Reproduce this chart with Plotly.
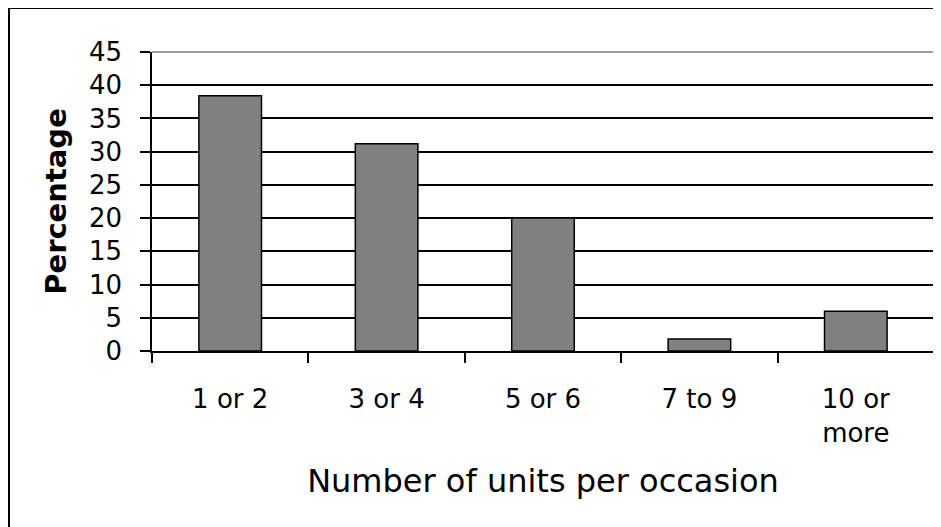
import plotly.graph_objects as go

categories = ["1 or 2", "3 or 4", "5 or 6", "7 to 9", "10 or<br>more"]
percentages = [38.4, 31.2, 20.0, 1.8, 6.0]
y_ticks = [0, 5, 10, 15, 20, 25, 30, 35, 40, 45]

# The page body adds an 8px offset; figure coords = screenshot coords - 8
W, H = 941, 527
OFF = 8
L = 152 - OFF
T = 52 - OFF
R = W - (934 - OFF)
B = H - (351 - OFF)
pw, ph = W - L - R, H - T - B

FONT = "DejaVu Sans, Verdana, sans-serif"

fig = go.Figure()
fig.add_trace(go.Bar(
    x=categories, y=percentages,
    marker=dict(color="#808080", line=dict(color="black", width=1.5)),
    width=0.4,
))

def px_x(p):
    return (p - OFF - L) / pw

def px_y(p):
    return (H - B - (p - OFF)) / ph

shapes = [
    dict(type="line", xref="paper", yref="paper", x0=0, x1=1, y0=1, y1=1,
         line=dict(color="#808080", width=1.5), layer="above"),
    dict(type="line", xref="paper", yref="paper", x0=1, x1=1, y0=0, y1=1,
         line=dict(color="#808080", width=1.5), layer="above"),
    dict(type="rect", xref="paper", yref="paper",
         x0=px_x(9), x1=px_x(1100), y0=px_y(700), y1=px_y(8),
         line=dict(color="black", width=2), fillcolor="rgba(0,0,0,0)", layer="above"),
]

fig.update_layout(
    width=W, height=H,
    margin=dict(l=L, r=R, t=T, b=B),
    paper_bgcolor="white", plot_bgcolor="white",
    showlegend=False,
    bargap=0.6,
    shapes=shapes,
    font=dict(family=FONT, color="black"),
    xaxis=dict(
        automargin=False,
        showgrid=False,
        showline=True, linecolor="black", linewidth=1.5,
        ticks="outside", ticklen=10, tickcolor="black", tickwidth=1.5,
        tickson="boundaries",
        tickfont=dict(size=26, family=FONT, color="black"),
        ticklabelstandoff=24,
        title=dict(text="Number of units per occasion",
                   font=dict(size=32, family=FONT, color="black"),
                   standoff=23),
    ),
    yaxis=dict(
        automargin=False,
        range=[0, 45],
        tickvals=y_ticks,
        showgrid=True, gridcolor="black", gridwidth=1.5,
        showline=True, linecolor="black", linewidth=1.5,
        zeroline=False,
        ticks="outside", ticklen=10, tickcolor="black", tickwidth=1.5,
        tickfont=dict(size=26, family=FONT, color="black"),
        ticklabelstandoff=13,
        title=dict(text="<b>Percentage</b>",
                   font=dict(size=29, family=FONT, color="black"),
                   standoff=14),
    ),
)

fig.write_html("out.html")
